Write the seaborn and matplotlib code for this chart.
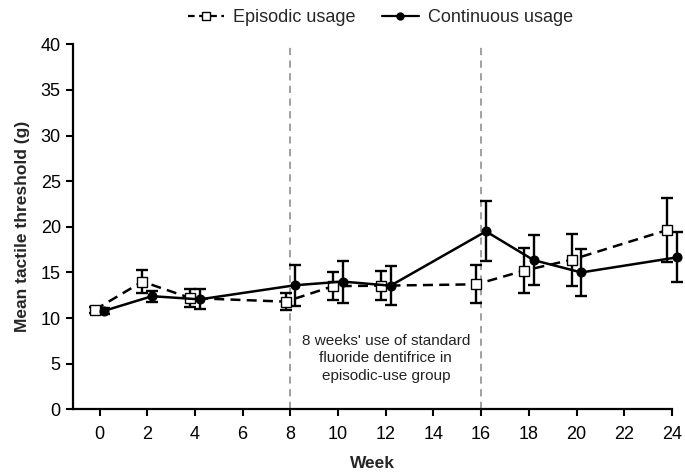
import numpy as np
import pandas as pd
import matplotlib
matplotlib.use("Agg")
import matplotlib.pyplot as plt
import seaborn as sns
from matplotlib.lines import Line2D

weeks = [0, 2, 4, 8, 10, 12, 16, 18, 20, 24]
episodic_mean = [10.9, 14.0, 12.2, 11.8, 13.5, 13.55, 13.7, 15.2, 16.4, 19.65]
episodic_err = [0.3, 1.3, 1.0, 0.95, 1.5, 1.6, 2.1, 2.45, 2.85, 3.55]
continuous_mean = [10.8, 12.4, 12.05, 13.6, 14.0, 13.55, 19.5, 16.35, 15.0, 16.65]
continuous_err = [0.3, 0.6, 1.1, 2.25, 2.3, 2.15, 3.3, 2.7, 2.6, 2.75]
xticks = list(range(0, 25, 2))
yticks = list(range(0, 41, 5))
annotation = "8 weeks' use of standard\nfluoride dentifrice in\nepisodic-use group"

sns.set_style("white")
plt.rcParams['font.family'] = ['Liberation Sans', 'DejaVu Sans']

fig = plt.figure(figsize=(6.85, 4.76), dpi=100)
ax = fig.add_axes([0.107, 0.140, 0.874, 0.767])

offset = 0.2
ep_x = np.array(weeks) - offset
co_x = np.array(weeks) + offset

df_ep = pd.DataFrame({"x": ep_x, "y": episodic_mean})
df_co = pd.DataFrame({"x": co_x, "y": continuous_mean})

# vertical reference lines
for v in (8, 16):
    ax.axvline(v, color="#999999", ls=(0, (4, 3)), lw=1.3, zorder=1)

for xs, ms, es in ((ep_x, episodic_mean, episodic_err), (co_x, continuous_mean, continuous_err)):
    eb = ax.errorbar(xs, ms, yerr=es, fmt="none", ecolor="black",
                     elinewidth=1.7, capsize=4, capthick=1.7, zorder=2)
    for ch in eb.get_children():
        ch.set_clip_on(False)

sns.lineplot(data=df_ep, x="x", y="y", ax=ax, color="black", lw=1.8,
             linestyle=(0, (4, 2.5)), marker="s", markersize=7,
             markerfacecolor="white", markeredgecolor="black", markeredgewidth=1.0,
             zorder=3, legend=False, clip_on=False)
sns.lineplot(data=df_co, x="x", y="y", ax=ax, color="black", lw=1.8,
             linestyle="-", marker="o", markersize=6.5,
             markerfacecolor="black", markeredgecolor="black",
             zorder=4, legend=False, clip_on=False)

ax.set_xlim(-1.1, 24)
ax.set_ylim(0, 40)
ax.set_xticks(xticks)
ax.set_yticks(yticks)
ax.tick_params(axis="both", direction="out", length=5, width=1.5, labelsize=13,
               colors="black", bottom=True, left=True, pad=4)
ax.tick_params(axis="x", pad=7)
for s in ("top", "right"):
    ax.spines[s].set_visible(False)
for s in ("left", "bottom"):
    ax.spines[s].set_linewidth(1.6)
    ax.spines[s].set_color("black")

ax.set_xlabel("Week", fontsize=12.5, fontweight="bold", labelpad=9)
ax.set_ylabel("Mean tactile threshold (g)", fontsize=12.5, fontweight="bold", labelpad=8)

ax.text(12, 5.6, annotation, ha="center", va="center", fontsize=11,
        linespacing=1.3, color="#222222")

handles = [
    Line2D([], [], color="black", lw=1.6, ls=(0, (3, 2)), marker="s", markersize=6,
           markerfacecolor="white", markeredgecolor="black"),
    Line2D([], [], color="black", lw=1.6, ls="-", marker="o", markersize=5,
           markerfacecolor="black"),
]
fig.legend(handles, ["Episodic usage", "Continuous usage"], loc="upper center",
           bbox_to_anchor=(0.555, 1.015), ncol=2, frameon=False, fontsize=13,
           handlelength=2.0, columnspacing=1.5, handletextpad=0.5)

fig.savefig("out.png", dpi=100)
